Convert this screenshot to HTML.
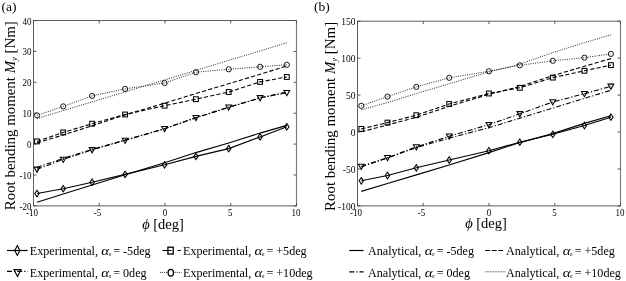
<!DOCTYPE html>
<html><head><meta charset="utf-8"><title>Root bending moment</title>
<style>
html,body{margin:0;padding:0;background:#fff;}
body{width:626px;height:281px;overflow:hidden;}
svg{display:block;font-family:"Liberation Serif",serif;fill:#000;}
svg{will-change:transform;opacity:0.999;}
</style></head><body>
<svg width="626" height="281" viewBox="0 0 626 281">
<rect width="626" height="281" fill="#fff"/>
<text x="1.5" y="10.8" font-size="13.5">(a)</text>
<text x="314.1" y="11.2" font-size="13.5">(b)</text>
<path d="M33.5 205.9V20.5H296.5" fill="none" stroke="#5e5e5e" stroke-width="1"/>
<path d="M33.5 205.9H296.5V20.5" fill="none" stroke="#7c7c7c" stroke-width="1.15"/>
<line x1="33.5" y1="20.5" x2="36.5" y2="20.5" stroke="#4a4a4a" stroke-width="0.9"/><line x1="296.5" y1="20.5" x2="293.5" y2="20.5" stroke="#4a4a4a" stroke-width="0.9"/><text transform="translate(31.5,24.5) scale(1,1.2)" text-anchor="end" font-size="9">40</text>
<line x1="33.5" y1="51.4" x2="36.5" y2="51.4" stroke="#4a4a4a" stroke-width="0.9"/><line x1="296.5" y1="51.4" x2="293.5" y2="51.4" stroke="#4a4a4a" stroke-width="0.9"/><text transform="translate(31.5,55.4) scale(1,1.2)" text-anchor="end" font-size="9">30</text>
<line x1="33.5" y1="82.3" x2="36.5" y2="82.3" stroke="#4a4a4a" stroke-width="0.9"/><line x1="296.5" y1="82.3" x2="293.5" y2="82.3" stroke="#4a4a4a" stroke-width="0.9"/><text transform="translate(31.5,86.3) scale(1,1.2)" text-anchor="end" font-size="9">20</text>
<line x1="33.5" y1="113.2" x2="36.5" y2="113.2" stroke="#4a4a4a" stroke-width="0.9"/><line x1="296.5" y1="113.2" x2="293.5" y2="113.2" stroke="#4a4a4a" stroke-width="0.9"/><text transform="translate(31.5,117.2) scale(1,1.2)" text-anchor="end" font-size="9">10</text>
<line x1="33.5" y1="144.1" x2="36.5" y2="144.1" stroke="#4a4a4a" stroke-width="0.9"/><line x1="296.5" y1="144.1" x2="293.5" y2="144.1" stroke="#4a4a4a" stroke-width="0.9"/><text transform="translate(31.5,148.1) scale(1,1.2)" text-anchor="end" font-size="9">0</text>
<line x1="33.5" y1="175.0" x2="36.5" y2="175.0" stroke="#4a4a4a" stroke-width="0.9"/><line x1="296.5" y1="175.0" x2="293.5" y2="175.0" stroke="#4a4a4a" stroke-width="0.9"/><text transform="translate(31.5,179.0) scale(1,1.2)" text-anchor="end" font-size="9">-10</text>
<line x1="33.5" y1="205.9" x2="36.5" y2="205.9" stroke="#4a4a4a" stroke-width="0.9"/><line x1="296.5" y1="205.9" x2="293.5" y2="205.9" stroke="#4a4a4a" stroke-width="0.9"/><text transform="translate(31.5,209.9) scale(1,1.2)" text-anchor="end" font-size="9">-20</text>
<line x1="33.5" y1="205.9" x2="33.5" y2="202.9" stroke="#4a4a4a" stroke-width="0.9"/><line x1="33.5" y1="20.5" x2="33.5" y2="23.5" stroke="#4a4a4a" stroke-width="0.9"/><text transform="translate(32.0,216.2) scale(1,1.2)" text-anchor="middle" font-size="9">-10</text>
<line x1="99.2" y1="205.9" x2="99.2" y2="202.9" stroke="#4a4a4a" stroke-width="0.9"/><line x1="99.2" y1="20.5" x2="99.2" y2="23.5" stroke="#4a4a4a" stroke-width="0.9"/><text transform="translate(97.5,216.2) scale(1,1.2)" text-anchor="middle" font-size="9">-5</text>
<line x1="165.0" y1="205.9" x2="165.0" y2="202.9" stroke="#4a4a4a" stroke-width="0.9"/><line x1="165.0" y1="20.5" x2="165.0" y2="23.5" stroke="#4a4a4a" stroke-width="0.9"/><text transform="translate(164.9,216.2) scale(1,1.2)" text-anchor="middle" font-size="9">0</text>
<line x1="230.8" y1="205.9" x2="230.8" y2="202.9" stroke="#4a4a4a" stroke-width="0.9"/><line x1="230.8" y1="20.5" x2="230.8" y2="23.5" stroke="#4a4a4a" stroke-width="0.9"/><text transform="translate(230.3,216.2) scale(1,1.2)" text-anchor="middle" font-size="9">5</text>
<line x1="296.5" y1="205.9" x2="296.5" y2="202.9" stroke="#4a4a4a" stroke-width="0.9"/><line x1="296.5" y1="20.5" x2="296.5" y2="23.5" stroke="#4a4a4a" stroke-width="0.9"/><text transform="translate(295.9,216.2) scale(1,1.2)" text-anchor="middle" font-size="9">10</text>
<path d="M357.5 205.9V21.2H620.5" fill="none" stroke="#5e5e5e" stroke-width="1"/>
<path d="M357.5 205.9H620.5V21.2" fill="none" stroke="#7c7c7c" stroke-width="1.15"/>
<line x1="357.5" y1="21.2" x2="360.5" y2="21.2" stroke="#4a4a4a" stroke-width="0.9"/><line x1="620.5" y1="21.2" x2="617.5" y2="21.2" stroke="#4a4a4a" stroke-width="0.9"/><text transform="translate(355.5,25.2) scale(1,1.137)" text-anchor="end" font-size="9.5">150</text>
<line x1="357.5" y1="58.1" x2="360.5" y2="58.1" stroke="#4a4a4a" stroke-width="0.9"/><line x1="620.5" y1="58.1" x2="617.5" y2="58.1" stroke="#4a4a4a" stroke-width="0.9"/><text transform="translate(355.5,62.1) scale(1,1.137)" text-anchor="end" font-size="9.5">100</text>
<line x1="357.5" y1="95.1" x2="360.5" y2="95.1" stroke="#4a4a4a" stroke-width="0.9"/><line x1="620.5" y1="95.1" x2="617.5" y2="95.1" stroke="#4a4a4a" stroke-width="0.9"/><text transform="translate(355.5,99.1) scale(1,1.137)" text-anchor="end" font-size="9.5">50</text>
<line x1="357.5" y1="132.0" x2="360.5" y2="132.0" stroke="#4a4a4a" stroke-width="0.9"/><line x1="620.5" y1="132.0" x2="617.5" y2="132.0" stroke="#4a4a4a" stroke-width="0.9"/><text transform="translate(355.5,136.0) scale(1,1.137)" text-anchor="end" font-size="9.5">0</text>
<line x1="357.5" y1="169.0" x2="360.5" y2="169.0" stroke="#4a4a4a" stroke-width="0.9"/><line x1="620.5" y1="169.0" x2="617.5" y2="169.0" stroke="#4a4a4a" stroke-width="0.9"/><text transform="translate(355.5,173.0) scale(1,1.137)" text-anchor="end" font-size="9.5">-50</text>
<line x1="357.5" y1="205.9" x2="360.5" y2="205.9" stroke="#4a4a4a" stroke-width="0.9"/><line x1="620.5" y1="205.9" x2="617.5" y2="205.9" stroke="#4a4a4a" stroke-width="0.9"/><text transform="translate(355.5,209.9) scale(1,1.137)" text-anchor="end" font-size="9.5">-100</text>
<line x1="357.5" y1="205.9" x2="357.5" y2="202.9" stroke="#4a4a4a" stroke-width="0.9"/><line x1="357.5" y1="21.2" x2="357.5" y2="24.2" stroke="#4a4a4a" stroke-width="0.9"/><text transform="translate(356.0,216.2) scale(1,1.2)" text-anchor="middle" font-size="9">-10</text>
<line x1="423.2" y1="205.9" x2="423.2" y2="202.9" stroke="#4a4a4a" stroke-width="0.9"/><line x1="423.2" y1="21.2" x2="423.2" y2="24.2" stroke="#4a4a4a" stroke-width="0.9"/><text transform="translate(421.6,216.2) scale(1,1.2)" text-anchor="middle" font-size="9">-5</text>
<line x1="489.0" y1="205.9" x2="489.0" y2="202.9" stroke="#4a4a4a" stroke-width="0.9"/><line x1="489.0" y1="21.2" x2="489.0" y2="24.2" stroke="#4a4a4a" stroke-width="0.9"/><text transform="translate(488.9,216.2) scale(1,1.2)" text-anchor="middle" font-size="9">0</text>
<line x1="554.8" y1="205.9" x2="554.8" y2="202.9" stroke="#4a4a4a" stroke-width="0.9"/><line x1="554.8" y1="21.2" x2="554.8" y2="24.2" stroke="#4a4a4a" stroke-width="0.9"/><text transform="translate(554.4,216.2) scale(1,1.2)" text-anchor="middle" font-size="9">5</text>
<line x1="620.5" y1="205.9" x2="620.5" y2="202.9" stroke="#4a4a4a" stroke-width="0.9"/><line x1="620.5" y1="21.2" x2="620.5" y2="24.2" stroke="#4a4a4a" stroke-width="0.9"/><text transform="translate(619.9,216.2) scale(1,1.2)" text-anchor="middle" font-size="9">10</text>
<polyline points="37.0,115.4 63.2,106.4 92.1,95.9 125.1,88.9 164.6,83.0 195.9,72.2 228.7,69.3 260.1,66.8 286.8,64.8" fill="none" stroke="#000" stroke-width="0.85" stroke-dasharray="1,1.3"/>
<polyline points="37.0,118.6 63.2,110.6 92.1,101.9 125.1,91.9 164.6,79.9 195.9,70.4 228.7,60.4 260.1,50.9 286.8,42.8" fill="none" stroke="#000" stroke-width="0.85" stroke-dasharray="1,1.3"/>
<g fill="none" stroke="#000" stroke-width="0.9"><circle cx="37.0" cy="115.4" r="2.6" /><circle cx="63.2" cy="106.4" r="2.6" /><circle cx="92.1" cy="95.9" r="2.6" /><circle cx="125.1" cy="88.9" r="2.6" /><circle cx="164.6" cy="83.0" r="2.6" /><circle cx="195.9" cy="72.2" r="2.6" /><circle cx="228.7" cy="69.3" r="2.6" /><circle cx="260.1" cy="66.8" r="2.6" /><circle cx="286.8" cy="64.8" r="2.6" /></g>
<polyline points="37.0,141.4 63.2,132.4 92.1,123.7 125.1,114.5 164.6,105.7 195.9,99.2 228.7,92.0 260.1,81.9 286.8,77.0" fill="none" stroke="#000" stroke-width="1.1" stroke-dasharray="4.2,2.2"/>
<polyline points="37.0,142.9 63.2,135.0 92.1,125.7 125.1,114.9 164.6,103.2 195.9,93.5 228.7,83.7 260.1,74.3 286.8,65.9" fill="none" stroke="#000" stroke-width="1.1" stroke-dasharray="4.2,2.2"/>
<g fill="none" stroke="#000" stroke-width="1.05"><rect x="34.6" y="139.0" width="4.8" height="4.8" /><rect x="60.8" y="130.0" width="4.8" height="4.8" /><rect x="89.7" y="121.3" width="4.8" height="4.8" /><rect x="122.7" y="112.1" width="4.8" height="4.8" /><rect x="162.2" y="103.3" width="4.8" height="4.8" /><rect x="193.5" y="96.8" width="4.8" height="4.8" /><rect x="226.3" y="89.6" width="4.8" height="4.8" /><rect x="257.7" y="79.5" width="4.8" height="4.8" /><rect x="284.4" y="74.6" width="4.8" height="4.8" /></g>
<polyline points="37.0,169.3 63.2,159.4 92.1,149.8 125.1,140.4 164.6,128.7 195.9,117.6 228.7,107.2 260.1,97.8 286.8,92.7" fill="none" stroke="#000" stroke-width="1.1" stroke-dasharray="5,2,1.2,2"/>
<polyline points="37.0,167.4 63.2,158.4 92.1,149.3 125.1,140.1 164.6,128.7 195.9,117.8 228.7,107.4 260.1,98.0 286.8,92.0" fill="none" stroke="#000" stroke-width="1.1" stroke-dasharray="5,2,1.2,2"/>
<g fill="none" stroke="#000" stroke-width="1.05"><polygon points="34.1,167.1 39.9,167.1 37.0,172.3" /><polygon points="60.3,157.2 66.1,157.2 63.2,162.4" /><polygon points="89.2,147.6 95.0,147.6 92.1,152.8" /><polygon points="122.2,138.2 128.0,138.2 125.1,143.4" /><polygon points="161.7,126.5 167.5,126.5 164.6,131.7" /><polygon points="193.0,115.4 198.8,115.4 195.9,120.6" /><polygon points="225.8,105.0 231.6,105.0 228.7,110.2" /><polygon points="257.2,95.6 263.0,95.6 260.1,100.8" /><polygon points="283.9,90.5 289.7,90.5 286.8,95.7" /></g>
<polyline points="37.0,193.5 63.2,188.8 92.1,182.2 125.1,174.4 164.6,164.8 195.9,156.4 228.7,148.6 260.1,136.9 286.8,126.8" fill="none" stroke="#000" stroke-width="1.1"/>
<polyline points="37.0,202.2 63.2,194.0 92.1,185.0 125.1,174.8 164.6,162.7 195.9,152.6 228.7,143.0 260.1,133.1 286.8,125.4" fill="none" stroke="#000" stroke-width="1.1"/>
<g fill="none" stroke="#000" stroke-width="1.05"><polygon points="37.0,190.3 39.2,193.5 37.0,196.7 34.8,193.5" /><polygon points="63.2,185.6 65.4,188.8 63.2,191.9 61.0,188.8" /><polygon points="92.1,179.0 94.3,182.2 92.1,185.4 89.9,182.2" /><polygon points="125.1,171.2 127.3,174.4 125.1,177.6 122.9,174.4" /><polygon points="164.6,161.6 166.8,164.8 164.6,168.0 162.4,164.8" /><polygon points="195.9,153.2 198.1,156.4 195.9,159.6 193.7,156.4" /><polygon points="228.7,145.4 230.9,148.6 228.7,151.8 226.5,148.6" /><polygon points="260.1,133.7 262.3,136.9 260.1,140.1 257.9,136.9" /><polygon points="286.8,123.6 289.0,126.8 286.8,130.0 284.6,126.8" /></g>
<polyline points="361.3,105.8 387.5,96.6 416.3,86.9 449.2,77.8 488.9,71.3 519.8,65.3 552.8,60.8 584.4,57.7 610.9,53.9" fill="none" stroke="#000" stroke-width="0.85" stroke-dasharray="1,1.3"/>
<polyline points="361.3,109.8 387.5,102.6 416.3,93.6 449.2,83.8 488.9,71.9 519.8,64.2 552.8,52.6 584.4,42.7 610.9,34.8" fill="none" stroke="#000" stroke-width="0.85" stroke-dasharray="1,1.3"/>
<g fill="none" stroke="#000" stroke-width="0.9"><circle cx="361.3" cy="105.8" r="2.6" /><circle cx="387.5" cy="96.6" r="2.6" /><circle cx="416.3" cy="86.9" r="2.6" /><circle cx="449.2" cy="77.8" r="2.6" /><circle cx="488.9" cy="71.3" r="2.6" /><circle cx="519.8" cy="65.3" r="2.6" /><circle cx="552.8" cy="60.8" r="2.6" /><circle cx="584.4" cy="57.7" r="2.6" /><circle cx="610.9" cy="53.9" r="2.6" /></g>
<polyline points="361.3,128.9 387.5,122.6 416.3,115.2 449.2,104.0 488.9,93.5 519.8,87.8 552.8,77.6 584.4,70.8 610.9,65.1" fill="none" stroke="#000" stroke-width="1.1" stroke-dasharray="4.2,2.2"/>
<polyline points="361.3,131.8 387.5,125.0 416.3,117.3 449.2,106.3 488.9,94.3 519.8,86.6 552.8,75.6 584.4,66.3 610.9,58.6" fill="none" stroke="#000" stroke-width="1.1" stroke-dasharray="4.2,2.2"/>
<g fill="none" stroke="#000" stroke-width="1.05"><rect x="358.9" y="126.5" width="4.8" height="4.8" /><rect x="385.1" y="120.2" width="4.8" height="4.8" /><rect x="413.9" y="112.8" width="4.8" height="4.8" /><rect x="446.8" y="101.6" width="4.8" height="4.8" /><rect x="486.5" y="91.1" width="4.8" height="4.8" /><rect x="517.4" y="85.4" width="4.8" height="4.8" /><rect x="550.4" y="75.2" width="4.8" height="4.8" /><rect x="582.0" y="68.4" width="4.8" height="4.8" /><rect x="608.5" y="62.7" width="4.8" height="4.8" /></g>
<polyline points="361.3,166.4 387.5,157.7 416.3,146.9 449.2,136.2 488.9,124.7 519.8,113.8 552.8,102.0 584.4,93.7 610.9,86.3" fill="none" stroke="#000" stroke-width="1.1" stroke-dasharray="5,2,1.2,2"/>
<polyline points="361.3,166.8 387.5,158.0 416.3,147.6 449.2,138.1 488.9,127.7 519.8,118.2 552.8,108.1 584.4,98.4 610.9,90.3" fill="none" stroke="#000" stroke-width="1.1" stroke-dasharray="5,2,1.2,2"/>
<g fill="none" stroke="#000" stroke-width="1.05"><polygon points="358.4,164.2 364.2,164.2 361.3,169.4" /><polygon points="384.6,155.5 390.4,155.5 387.5,160.7" /><polygon points="413.4,144.7 419.2,144.7 416.3,149.9" /><polygon points="446.3,134.0 452.1,134.0 449.2,139.2" /><polygon points="486.0,122.5 491.8,122.5 488.9,127.7" /><polygon points="516.9,111.6 522.7,111.6 519.8,116.8" /><polygon points="549.9,99.8 555.7,99.8 552.8,105.0" /><polygon points="581.5,91.5 587.3,91.5 584.4,96.7" /><polygon points="608.0,84.1 613.8,84.1 610.9,89.3" /></g>
<polyline points="361.3,180.8 387.5,175.5 416.3,167.8 449.2,160.0 488.9,150.7 519.8,142.2 552.8,134.3 584.4,125.5 610.9,117.2" fill="none" stroke="#000" stroke-width="1.1"/>
<polyline points="361.3,191.4 387.5,183.5 416.3,174.9 449.2,165.0 488.9,152.6 519.8,142.6 552.8,133.6 584.4,123.4 610.9,115.7" fill="none" stroke="#000" stroke-width="1.1"/>
<g fill="none" stroke="#000" stroke-width="1.05"><polygon points="361.3,177.6 363.5,180.8 361.3,184.0 359.1,180.8" /><polygon points="387.5,172.3 389.7,175.5 387.5,178.7 385.3,175.5" /><polygon points="416.3,164.6 418.5,167.8 416.3,171.0 414.1,167.8" /><polygon points="449.2,156.8 451.4,160.0 449.2,163.2 447.0,160.0" /><polygon points="488.9,147.5 491.1,150.7 488.9,153.9 486.7,150.7" /><polygon points="519.8,139.0 522.0,142.2 519.8,145.4 517.6,142.2" /><polygon points="552.8,131.1 555.0,134.3 552.8,137.5 550.6,134.3" /><polygon points="584.4,122.3 586.6,125.5 584.4,128.7 582.2,125.5" /><polygon points="610.9,114.0 613.1,117.2 610.9,120.4 608.7,117.2" /></g>
<text transform="translate(15.2,115.7) rotate(-90)" text-anchor="middle" font-size="14.9">Root bending moment <tspan font-style="italic">M</tspan><tspan font-style="italic" font-size="8.5" dy="2">y</tspan><tspan dy="-2"> [Nm]</tspan></text>
<text transform="translate(335.0,116.4) rotate(-90)" text-anchor="middle" font-size="14.9">Root bending moment <tspan font-style="italic">M</tspan><tspan font-style="italic" font-size="8.5" dy="2">y</tspan><tspan dy="-2"> [Nm]</tspan></text>
<text x="163" y="228.7" text-anchor="middle" font-size="14.5"><tspan font-style="italic">ϕ</tspan> [deg]</text>
<text x="486" y="228.1" text-anchor="middle" font-size="14.5"><tspan font-style="italic">ϕ</tspan> [deg]</text>
<line x1="7" y1="250.5" x2="27.7" y2="250.5" stroke="#000" stroke-width="1.2"/><g fill="none" stroke="#000" stroke-width="1.1"><polygon points="17.3,245.6 19.8,250.5 17.3,255.4 14.8,250.5"/></g><text x="29.8" y="255.4" font-size="12.1">Experimental,</text><text transform="translate(101.33,255.4) scale(1.24,1)" font-size="12.1" font-style="italic">α</text><text x="108.63" y="256.0" font-size="4.3" font-style="italic">R</text><text x="113.23" y="255.4" font-size="12.1">= -5deg</text>
<line x1="7" y1="271.3" x2="27.7" y2="271.3" stroke="#000" stroke-width="1.2" stroke-dasharray="5,2,1.2,2"/><g fill="none" stroke="#000" stroke-width="1.1"><polygon points="13.9,269.6 21.1,269.6 17.5,276.6"/></g><text x="29.8" y="276.9" font-size="12.1">Experimental,</text><text transform="translate(101.33,276.9) scale(1.24,1)" font-size="12.1" font-style="italic">α</text><text x="108.63" y="277.5" font-size="4.3" font-style="italic">R</text><text x="113.23" y="276.9" font-size="12.1">= 0deg</text>
<path d="M162.4 250.5H171.5M177.4 250.5H181" stroke="#000" stroke-width="1.2" fill="none"/><g fill="none" stroke="#000" stroke-width="1.3"><rect x="167.9" y="247.2" width="5.3" height="6.8"/></g><text x="183" y="255.4" font-size="12.1">Experimental,</text><text transform="translate(254.53,255.4) scale(1.24,1)" font-size="12.1" font-style="italic">α</text><text x="261.83" y="256.0" font-size="4.3" font-style="italic">R</text><text x="266.43" y="255.4" font-size="12.1">= +5deg</text>
<line x1="160.2" y1="272.4" x2="181.5" y2="272.4" stroke="#000" stroke-width="0.9" stroke-dasharray="0.9,1"/><g fill="none" stroke="#000" stroke-width="1.3"><ellipse cx="170.8" cy="272.8" rx="2.7" ry="3.4" fill="#fff"/></g><text x="183" y="276.9" font-size="12.1">Experimental,</text><text transform="translate(254.53,276.9) scale(1.24,1)" font-size="12.1" font-style="italic">α</text><text x="261.83" y="277.5" font-size="4.3" font-style="italic">R</text><text x="266.43" y="276.9" font-size="12.1">= +10deg</text>
<line x1="349.3" y1="250.5" x2="363.6" y2="250.5" stroke="#000" stroke-width="1.2"/><text x="368.0" y="255.4" font-size="12.1">Analytical,</text><text transform="translate(424.75,255.4) scale(1.24,1)" font-size="12.1" font-style="italic">α</text><text x="432.05" y="256.0" font-size="4.3" font-style="italic">R</text><text x="436.65" y="255.4" font-size="12.1">= -5deg</text>
<line x1="349.3" y1="271.8" x2="363.6" y2="271.8" stroke="#000" stroke-width="1.2" stroke-dasharray="5,2,1.2,2"/><text x="368.0" y="276.9" font-size="12.1">Analytical,</text><text transform="translate(424.75,276.9) scale(1.24,1)" font-size="12.1" font-style="italic">α</text><text x="432.05" y="277.5" font-size="4.3" font-style="italic">R</text><text x="436.65" y="276.9" font-size="12.1">= 0deg</text>
<line x1="485.2" y1="250.5" x2="503" y2="250.5" stroke="#000" stroke-width="1.2" stroke-dasharray="5,1.5"/><text x="506" y="255.4" font-size="12.1">Analytical,</text><text transform="translate(562.75,255.4) scale(1.24,1)" font-size="12.1" font-style="italic">α</text><text x="570.05" y="256.0" font-size="4.3" font-style="italic">R</text><text x="574.65" y="255.4" font-size="12.1">= +5deg</text>
<line x1="485.3" y1="271.8" x2="505.8" y2="271.8" stroke="#000" stroke-width="0.8" stroke-dasharray="0.8,0.8"/><text x="506" y="276.9" font-size="12.1">Analytical,</text><text transform="translate(562.75,276.9) scale(1.24,1)" font-size="12.1" font-style="italic">α</text><text x="570.05" y="277.5" font-size="4.3" font-style="italic">R</text><text x="574.65" y="276.9" font-size="12.1">= +10deg</text>

</svg>
</body></html>
